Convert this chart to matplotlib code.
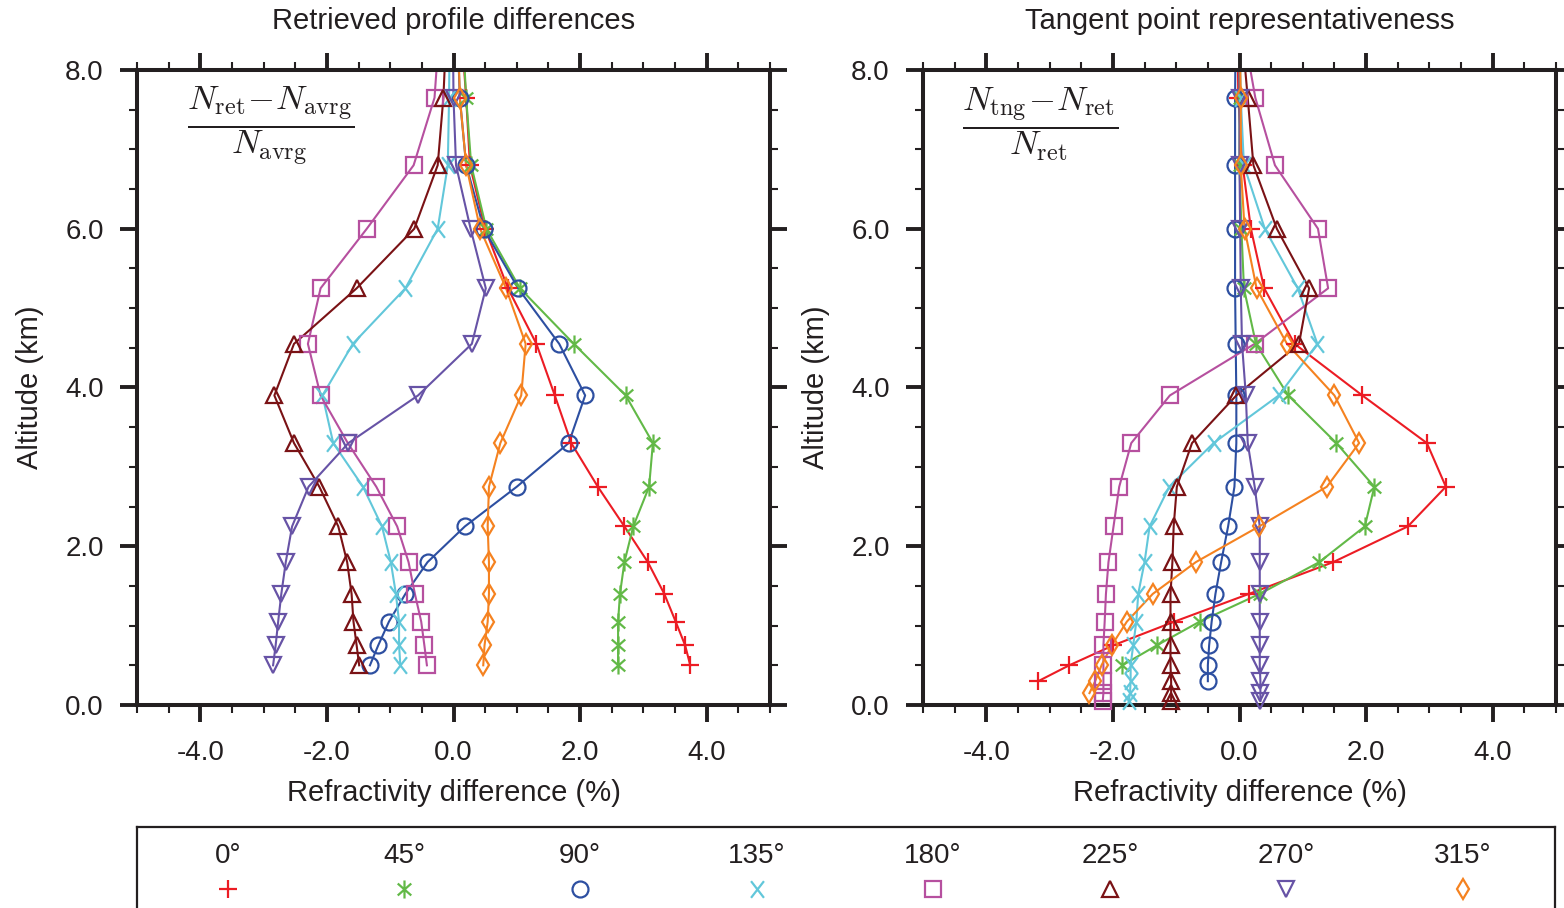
import numpy as np
import matplotlib
matplotlib.use('Agg')
import matplotlib.pyplot as plt
from matplotlib.path import Path
from matplotlib.ticker import FormatStrFormatter

plt.rcParams['font.family'] = ['Liberation Sans', 'DejaVu Sans']
plt.rcParams['mathtext.fontset'] = 'cm'
plt.rcParams['axes.unicode_minus'] = False

nan = np.nan
# altitude levels (km)
levels = [0.05, 0.15, 0.3, 0.5, 0.75, 1.05, 1.4, 1.8, 2.25, 2.75, 3.3, 3.9,
          4.55, 5.25, 6.0, 6.8, 7.65, 8.55]

angle_labels = ['0°', '45°', '90°', '135°', '180°', '225°', '270°', '315°']

# Left panel: retrieved profile differences (%)
ret_0 = [nan, nan, nan, 3.74, 3.66, 3.51, 3.33, 3.07, 2.70, 2.28, 1.86, 1.60, 1.31, 0.86, 0.50, 0.26, 0.20, 0.12]
ret_45 = [nan, nan, nan, 2.60, 2.60, 2.60, 2.63, 2.70, 2.84, 3.09, 3.15, 2.72, 1.90, 1.05, 0.52, 0.28, 0.20, 0.14]
ret_90 = [nan, nan, nan, -1.32, -1.19, -1.02, -0.76, -0.41, 0.18, 1.00, 1.82, 2.08, 1.67, 1.02, 0.48, 0.20, 0.10, 0.06]
ret_135 = [nan, nan, nan, -0.84, -0.86, -0.86, -0.91, -0.99, -1.13, -1.43, -1.90, -2.07, -1.59, -0.76, -0.25, -0.09, -0.07, -0.06]
ret_180 = [nan, nan, nan, -0.42, -0.46, -0.51, -0.61, -0.71, -0.89, -1.22, -1.67, -2.10, -2.30, -2.10, -1.37, -0.63, -0.30, -0.22]
ret_225 = [nan, nan, nan, -1.49, -1.53, -1.58, -1.61, -1.68, -1.82, -2.12, -2.52, -2.83, -2.52, -1.53, -0.62, -0.25, -0.16, -0.11]
ret_270 = [nan, nan, nan, -2.85, -2.81, -2.77, -2.72, -2.65, -2.55, -2.29, -1.66, -0.56, 0.29, 0.51, 0.27, 0.04, 0.00, -0.01]
ret_315 = [nan, nan, nan, 0.47, 0.49, 0.54, 0.56, 0.56, 0.54, 0.56, 0.74, 1.07, 1.14, 0.83, 0.42, 0.20, 0.10, 0.07]

# Right panel: tangent point representativeness (%)
tng_0 = [nan, nan, -3.18, -2.69, -2.00, -1.03, 0.15, 1.48, 2.66, 3.26, 2.96, 1.94, 0.87, 0.39, 0.18, 0.05, -0.02, -0.03]
tng_45 = [nan, nan, nan, -1.85, -1.31, -0.63, 0.32, 1.26, 1.98, 2.13, 1.53, 0.77, 0.26, 0.07, 0.03, 0.00, 0.00, 0.00]
tng_90 = [nan, nan, -0.50, -0.50, -0.48, -0.44, -0.38, -0.29, -0.18, -0.08, -0.05, -0.05, -0.06, -0.07, -0.07, -0.07, -0.07, -0.06]
tng_135 = [-1.75, -1.73, -1.72, -1.72, -1.68, -1.63, -1.60, -1.50, -1.42, -1.11, -0.41, 0.62, 1.23, 0.92, 0.40, 0.07, 0.02, 0.00]
tng_180 = [-2.16, -2.15, -2.15, -2.15, -2.15, -2.13, -2.11, -2.07, -1.99, -1.90, -1.71, -1.10, 0.24, 1.40, 1.24, 0.56, 0.25, 0.05]
tng_225 = [-1.08, -1.08, -1.08, -1.09, -1.09, -1.09, -1.09, -1.06, -1.04, -0.99, -0.75, -0.05, 0.94, 1.10, 0.59, 0.22, 0.13, 0.03]
tng_270 = [0.33, 0.33, 0.33, 0.32, 0.32, 0.32, 0.32, 0.32, 0.32, 0.24, 0.13, 0.10, 0.04, 0.02, 0.01, 0.00, 0.00, 0.00]
tng_315 = [nan, -2.37, -2.28, -2.18, -2.02, -1.78, -1.37, -0.69, 0.31, 1.38, 1.89, 1.50, 0.75, 0.27, 0.08, 0.02, 0.02, 0.00]

ret_series = [ret_0, ret_45, ret_90, ret_135, ret_180, ret_225, ret_270, ret_315]
tng_series = [tng_0, tng_45, tng_90, tng_135, tng_180, tng_225, tng_270, tng_315]

colors = ['#ec1c24', '#62b947', '#2d4fa1', '#62c7da', '#b6509f', '#7a1215', '#6753a6', '#f58220']

C = Path.MOVETO
L = Path.LINETO
asterisk = Path([(0, -1), (0, 1), (-0.75, -0.66), (0.75, 0.66), (-0.75, 0.66), (0.75, -0.66)],
                [C, L, C, L, C, L])
cross = Path([(-0.62, -0.8), (0.62, 0.8), (-0.62, 0.8), (0.62, -0.8)], [C, L, C, L])
markers = ['+', asterisk, 'o', cross, 's', '^', 'v', 'd']
msizes = [12.5, 13, 11.5, 12, 11.5, 12, 12, 10]

ink = '#231f20'
W, H = 1564, 908
fig = plt.figure(figsize=(W / 100, H / 100), dpi=100)


def rect(l, r, t, b):
    return [l / W, 1 - b / H, (r - l) / W, (b - t) / H]


axL = fig.add_axes(rect(137, 770, 70, 705))
axR = fig.add_axes(rect(923, 1556, 70, 705))


def style(ax):
    ax.set_xlim(-5, 5)
    ax.set_ylim(0, 8)
    ax.set_xticks([-4, -2, 0, 2, 4])
    ax.set_xticks(np.arange(-5, 5.01, 0.5), minor=True)
    ax.set_yticks([0, 2, 4, 6, 8])
    ax.set_yticks(np.arange(0, 8.01, 0.5), minor=True)
    ax.xaxis.set_major_formatter(FormatStrFormatter('%.1f'))
    ax.yaxis.set_major_formatter(FormatStrFormatter('%.1f'))
    ax.tick_params(which='both', direction='out', top=True, right=True,
                   color=ink, labelcolor=ink)
    ax.tick_params(which='major', length=12, width=2.8, labelsize=20)
    ax.tick_params(axis='x', which='major', pad=13)
    ax.tick_params(axis='y', which='major', pad=12)
    ax.tick_params(which='minor', length=6, width=1.5)
    for s in ax.spines.values():
        s.set_linewidth(2.9)
        s.set_color(ink)
    ax.set_xlabel('Refractivity difference (%)', fontsize=21, color=ink)
    ax.xaxis.set_label_coords(0.5, (705 - 793) / 635)
    ax.xaxis.label.set_va('center')
    ax.set_ylabel('Altitude (km)', fontsize=21, color=ink)
    ax.yaxis.set_label_coords((30 - 137) / 633, 0.5)
    ax.yaxis.label.set_va('center')


def draw(ax, vals, color, marker, ms):
    x = np.array(vals, float)
    y = np.array(levels)
    ok = ~np.isnan(x)
    ax.plot(x[ok], y[ok], color=color, lw=1.5, zorder=2)
    inside = ok & (y <= 8)
    ax.plot(x[inside], y[inside], ls='none', marker=marker, ms=ms, mec=color,
            mfc='none', mew=1.6, clip_on=False, zorder=3)


for ax, series in ((axL, ret_series), (axR, tng_series)):
    style(ax)
    for vals, c, m, ms in zip(series, colors, markers, msizes):
        draw(ax, vals, c, m, ms)

axL.text(0.5, (705 - 21) / 635, 'Retrieved profile differences', transform=axL.transAxes,
         ha='center', va='center', fontsize=21, color=ink)
axR.text(0.5, (705 - 21) / 635, 'Tangent point representativeness', transform=axR.transAxes,
         ha='center', va='center', fontsize=21, color=ink)

axL.text(0.212, 0.913, r'$\dfrac{N_{\mathrm{ret}}\!-\!N_{\mathrm{avrg}}}{N_{\mathrm{avrg}}}$',
         transform=axL.transAxes, ha='center', va='center', fontsize=25, color=ink)
axR.text(0.185, 0.915, r'$\dfrac{N_{\mathrm{tng}}\!-\!N_{\mathrm{ret}}}{N_{\mathrm{ret}}}$',
         transform=axR.transAxes, ha='center', va='center', fontsize=25, color=ink)

# legend box (extends below the figure edge)
axG = fig.add_axes(rect(137, 1555, 827, 930))
axG.set_xlim(137, 1555)
axG.set_ylim(930, 827)
axG.set_xticks([])
axG.set_yticks([])
for s in axG.spines.values():
    s.set_linewidth(1.6)
    s.set_color(ink)
leg_x = [228, 404, 580, 757, 933, 1110, 1286, 1463]
for xx, lab, c, m, ms in zip(leg_x, angle_labels, colors, markers, msizes):
    axG.text(xx, 856, lab, ha='center', va='center', fontsize=20, color=ink)
    axG.plot([xx], [889], ls='none', marker=m, ms=ms, mec=c, mfc='none', mew=1.6)

fig.savefig('out.png', dpi=100)
